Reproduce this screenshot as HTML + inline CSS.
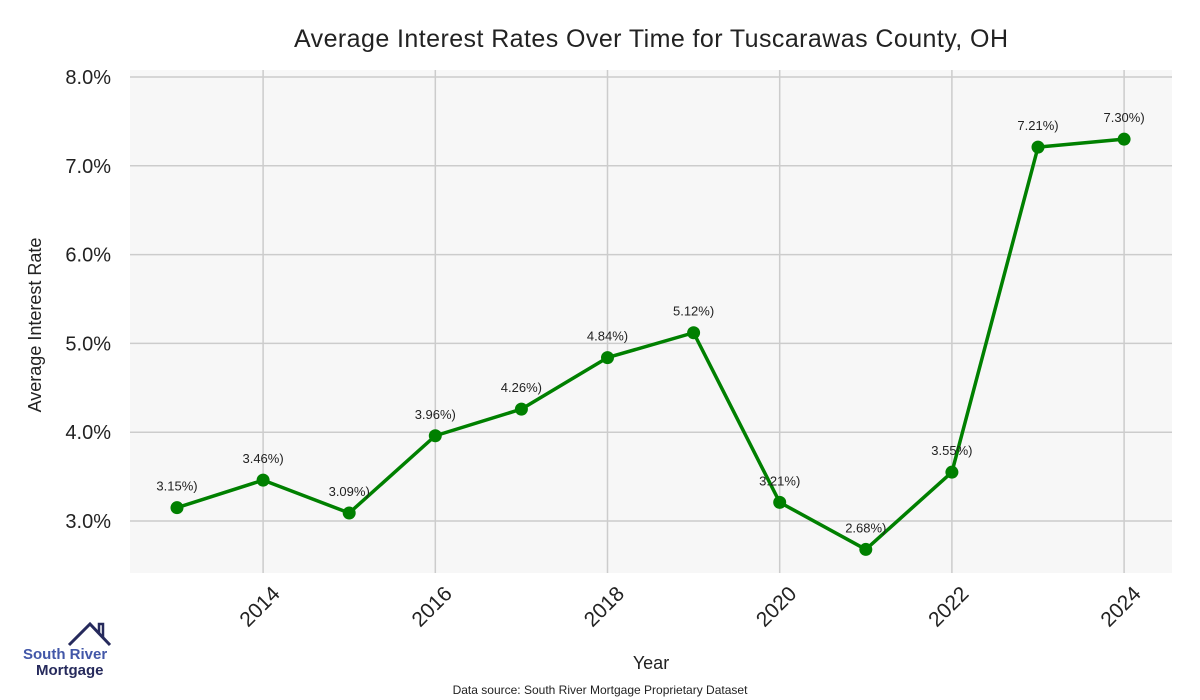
<!DOCTYPE html>
<html><head><meta charset="utf-8"><style>
body{margin:0;background:#fff;}
svg{display:block;font-family:"Liberation Sans",sans-serif;}
</style></head><body>
<svg id="chart" width="1200" height="700">
<text x="651" y="47" text-anchor="middle" font-size="25" fill="#222" textLength="714">Average Interest Rates Over Time for Tuscarawas County, OH</text>
<rect x="130" y="70" width="1042" height="503" fill="#f7f7f7"/>
<g id="grid"></g>
<g id="series"></g>
<text transform="translate(41,325) rotate(-90)" text-anchor="middle" font-size="18" fill="#222">Average Interest Rate</text>
<text x="651" y="669" text-anchor="middle" font-size="18" fill="#222">Year</text>
<text x="600" y="694" text-anchor="middle" font-size="12" fill="#222">Data source: South River Mortgage Proprietary Dataset</text>
<g>
<polyline points="69,645 90,624 110,645" fill="none" stroke="#262a5c" stroke-width="3"/>
<polyline points="99,633 99,624 103,624 103,637" fill="none" stroke="#262a5c" stroke-width="2.5"/>
<text x="23" y="659" font-size="15" font-weight="bold" fill="#4257a8">South River</text>
<text x="36" y="675" font-size="15" font-weight="bold" fill="#262a5c">Mortgage</text>
</g>
</svg>
<script>
const years=[2013,2014,2015,2016,2017,2018,2019,2020,2021,2022,2023,2024];
const rates=[3.15,3.46,3.09,3.96,4.26,4.84,5.12,3.21,2.68,3.55,7.21,7.30];
const yTicks=[3,4,5,6,7,8];
const xTicks=[2014,2016,2018,2020,2022,2024];
const NS="http://www.w3.org/2000/svg";
const sx=v=>177+(v-2013)*86.1;
const sy=v=>521-(v-3)*88.8;
function mk(tag,attrs,parent,txt){const e=document.createElementNS(NS,tag);for(const k in attrs)e.setAttribute(k,attrs[k]);if(txt!==undefined)e.textContent=txt;parent.appendChild(e);return e;}
const grid=document.getElementById('grid'),ser=document.getElementById('series'),svg=document.getElementById('chart');
yTicks.forEach(t=>{
 const l=mk('line',{x1:130,x2:1172,y1:sy(t),y2:sy(t),stroke:'#cccccc','stroke-width':1.5},grid);
 
 
 const tx=mk('text',{x:111,y:sy(t)+7,'text-anchor':'end','font-size':20,fill:'#222'},svg,t.toFixed(1)+'%');
 
 
});
xTicks.forEach(t=>{
 const l=mk('line',{x1:sx(t),x2:sx(t),y1:70,y2:573,stroke:'#cccccc','stroke-width':1.5},grid);
 
 
 const tx=mk('text',{transform:`translate(${sx(t)+18},595) rotate(-45)`,'text-anchor':'end','font-size':21,fill:'#222'},svg,String(t));
 
 
});
const pl=mk('polyline',{points:years.map((y,i)=>sx(y)+','+sy(rates[i])).join(' '),fill:'none',stroke:'#008000','stroke-width':3.5,'stroke-linejoin':'round'},ser);


years.forEach((y,i)=>{
 const c=mk('circle',{cx:sx(y),cy:sy(rates[i]),r:6.5,fill:'#008000'},ser);
 
 
 const t=mk('text',{x:sx(y),y:sy(rates[i])-17,'text-anchor':'middle','font-size':13,fill:'#222'},ser,rates[i].toFixed(2)+'%)');
 
 
});
</script>
</body></html>
